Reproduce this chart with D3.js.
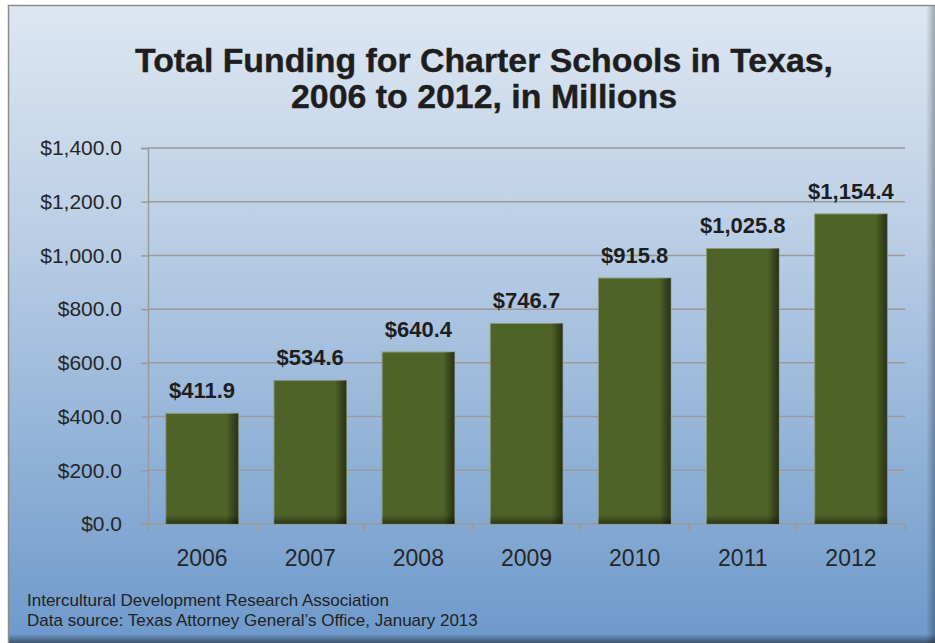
<!DOCTYPE html>
<html>
<head>
<meta charset="utf-8">
<script src="https://cdn.jsdelivr.net/npm/d3@7"></script>
<style>
  html, body { margin: 0; padding: 0; background: #ffffff; }
  svg { display: block; font-family: "Liberation Sans", Arial, sans-serif; }
</style>
</head>
<body>
<svg id="chart" width="935" height="643"></svg>
<script>
// Charter school funding in Texas, millions of dollars
const years = ["2006", "2007", "2008", "2009", "2010", "2011", "2012"];
const funding = [411.9, 534.6, 640.4, 746.7, 915.8, 1025.8, 1154.4];
const yTicks = [0, 200, 400, 600, 800, 1000, 1200, 1400];
const titleLines = ["Total Funding for Charter Schools in Texas,", "2006 to 2012, in Millions"];
const footerLines = ["Intercultural Development Research Association",
                     "Data source: Texas Attorney General\u2019s Office, January 2013"];

const data = years.map((y, i) => ({ year: y, value: funding[i] }));

const svg = d3.select("#chart");
const defs = svg.append("defs");

// Panel background: pale blue at top fading to mid blue at bottom
const bg = defs.append("linearGradient").attr("id", "bgGrad")
  .attr("x1", 0).attr("y1", 0).attr("x2", 0).attr("y2", 1);
bg.append("stop").attr("offset", "0%").attr("stop-color", "#dde7f2");
bg.append("stop").attr("offset", "35%").attr("stop-color", "#bccfe6");
bg.append("stop").attr("offset", "100%").attr("stop-color", "#6d99cb");

// Soft shadow along the right and bottom of the panel
const shR = defs.append("linearGradient").attr("id", "shadowR")
  .attr("x1", 0).attr("y1", 0).attr("x2", 1).attr("y2", 0);
shR.append("stop").attr("offset", "0%").attr("stop-color", "#000").attr("stop-opacity", 0);
shR.append("stop").attr("offset", "100%").attr("stop-color", "#000").attr("stop-opacity", 0.28);
const shB = defs.append("linearGradient").attr("id", "shadowB")
  .attr("x1", 0).attr("y1", 0).attr("x2", 0).attr("y2", 1);
shB.append("stop").attr("offset", "0%").attr("stop-color", "#000").attr("stop-opacity", 0);
shB.append("stop").attr("offset", "100%").attr("stop-color", "#000").attr("stop-opacity", 0.45);

// Bar shading: darker right edge and bottom edge
const barR = defs.append("linearGradient").attr("id", "barR")
  .attr("x1", 0).attr("y1", 0).attr("x2", 1).attr("y2", 0);
barR.append("stop").attr("offset", "0%").attr("stop-color", "#000").attr("stop-opacity", 0);
barR.append("stop").attr("offset", "84%").attr("stop-color", "#000").attr("stop-opacity", 0);
barR.append("stop").attr("offset", "100%").attr("stop-color", "#000").attr("stop-opacity", 0.5);
const barB = defs.append("linearGradient").attr("id", "barB")
  .attr("x1", 0).attr("y1", 0).attr("x2", 0).attr("y2", 1);
barB.append("stop").attr("offset", "0%").attr("stop-color", "#000").attr("stop-opacity", 0);
barB.append("stop").attr("offset", "100%").attr("stop-color", "#000").attr("stop-opacity", 0.45);

// Panel
const panel = { x: 8, y: 5, w: 927, h: 638 };
svg.append("rect").attr("x", panel.x).attr("y", panel.y)
  .attr("width", panel.w).attr("height", panel.h).attr("fill", "url(#bgGrad)");
svg.append("rect").attr("x", 926).attr("y", panel.y)
  .attr("width", 9).attr("height", panel.h).attr("fill", "url(#shadowR)");
svg.append("rect").attr("x", panel.x).attr("y", 634)
  .attr("width", panel.w).attr("height", 9).attr("fill", "url(#shadowB)");
svg.append("path")
  .attr("d", `M${panel.x + 0.5},${643} V${panel.y + 0.5} H${935}`)
  .attr("fill", "none").attr("stroke", "#8c8c8c").attr("stroke-width", 1.5);

// Title
const title = svg.append("g").attr("font-weight", "bold").attr("fill", "#1e1e1e")
  .attr("font-size", 33).attr("text-anchor", "middle")
  .attr("stroke", "#1e1e1e").attr("stroke-width", 0.4);
const titleWidths = [698, 386];
titleLines.forEach((t, i) => {
  title.append("text").attr("x", 484).attr("y", 72 + i * 36)
    .attr("textLength", titleWidths[i]).attr("lengthAdjust", "spacingAndGlyphs")
    .text(t);
});

// Plot area
const plot = { left: 148, right: 905, top: 148, bottom: 524 };
const x = d3.scaleBand().domain(years).range([plot.left, plot.right]).paddingInner(0.33).paddingOuter(0.165);
const xOuter = d3.scaleBand().domain(years).range([plot.left, plot.right]);
const y = d3.scaleLinear().domain([0, 1400]).range([plot.bottom, plot.top]);

const gridColor = "#9a9a9a";

// Horizontal gridlines with short tick stubs on the left
const yAxis = d3.axisLeft(y).tickValues(yTicks).tickSize(7).tickPadding(19)
  .tickFormat(d => "$" + d3.format(",.1f")(d));
const gy = svg.append("g").attr("transform", `translate(${plot.left},0)`).call(yAxis);
gy.select(".domain").attr("stroke", gridColor).attr("stroke-width", 1.5);
gy.selectAll(".tick line").attr("stroke", gridColor).attr("stroke-width", 1.5);
gy.selectAll(".tick text").attr("font-size", 21).attr("fill", "#262626")
  .attr("font-family", "Liberation Sans, Arial, sans-serif");

svg.append("g").selectAll("line").data(yTicks.filter(d => d > 0)).join("line")
  .attr("x1", plot.left).attr("x2", plot.right)
  .attr("y1", d => y(d)).attr("y2", d => y(d))
  .attr("stroke", gridColor).attr("stroke-width", 1.5);

// Category axis along the bottom
const xAxis = d3.axisBottom(xOuter).tickSize(0).tickPadding(26);
const gx = svg.append("g").attr("transform", `translate(0,${plot.bottom})`).call(xAxis);
gx.select(".domain").remove();
gx.selectAll(".tick text").attr("font-size", 23).attr("fill", "#262626")
  .attr("font-family", "Liberation Sans, Arial, sans-serif");
const boundaries = years.map(d => xOuter(d)).concat([plot.right]);
svg.append("g").selectAll("line").data(boundaries).join("line")
  .attr("x1", d => d).attr("x2", d => d)
  .attr("y1", plot.bottom).attr("y2", plot.bottom + 7)
  .attr("stroke", gridColor).attr("stroke-width", 1.5);
svg.append("line").attr("x1", plot.left - 7).attr("x2", plot.right)
  .attr("y1", plot.bottom).attr("y2", plot.bottom)
  .attr("stroke", gridColor).attr("stroke-width", 1.5);

// Bars
const bars = svg.append("g").selectAll("g").data(data).join("g");
bars.append("rect")
  .attr("x", d => x(d.year)).attr("y", d => y(d.value))
  .attr("width", x.bandwidth()).attr("height", d => y(0) - y(d.value))
  .attr("fill", "#4f6228").attr("stroke", "#8a9a78").attr("stroke-width", 1);
bars.append("rect")
  .attr("x", d => x(d.year)).attr("y", d => y(d.value))
  .attr("width", x.bandwidth()).attr("height", d => y(0) - y(d.value))
  .attr("fill", "url(#barR)");
bars.append("rect")
  .attr("x", d => x(d.year)).attr("y", d => y(0) - 9)
  .attr("width", x.bandwidth()).attr("height", 9)
  .attr("fill", "url(#barB)");

// Value labels above each bar
svg.append("g").selectAll("text").data(data).join("text")
  .attr("x", d => x(d.year) + x.bandwidth() / 2)
  .attr("y", d => y(d.value) - 15)
  .attr("text-anchor", "middle").attr("font-size", 22).attr("font-weight", "bold")
  .attr("fill", "#1e1e1e")
  .text(d => "$" + d3.format(",.1f")(d.value));

// Source notes
svg.append("g").selectAll("text").data(footerLines).join("text")
  .attr("x", 27).attr("y", (d, i) => 606 + i * 20)
  .attr("font-size", 17).attr("fill", "#222")
  .text(d => d);
</script>
</body>
</html>
